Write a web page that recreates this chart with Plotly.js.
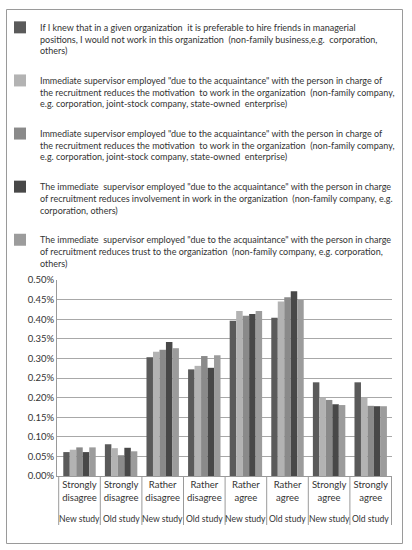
<!DOCTYPE html>
<html>
<head>
<meta charset="utf-8">
<script src="https://cdn.plot.ly/plotly-3.0.1.min.js"></script>
<style>
  body { margin: 0; background: #fff; }
  #chart { width: 412px; height: 550px; }
</style>
</head>
<body>
<div id="chart"></div>
<script>
// categories: answer (first label level) + study (second level)
const answers = ["Strongly<br>disagree", "Strongly<br>disagree", "Rather<br>disagree", "Rather<br>disagree",
                 "Rather<br>agree", "Rather<br>agree", "Strongly<br>agree", "Strongly<br>agree"];
const studies = ["New study", "Old study", "New study", "Old study",
                 "New study", "Old study", "New study", "Old study"];

// series names (line breaks as in the picture)
const seriesNames = [
  "If I knew that in a given organization  it is preferable to hire friends in managerial<br>positions, I would not work in this organization  (non-family business,e.g.  corporation,<br>others)",
  "Immediate supervisor employed \"due to the acquaintance\" with the person in charge of<br>the recruitment reduces the motivation  to work in the organization  (non-family company,<br>e.g. corporation, joint-stock company, state-owned  enterprise)",
  "Immediate supervisor employed \"due to the acquaintance\" with the person in charge of<br>the recruitment reduces the motivation  to work in the organization  (non-family company,<br>e.g. corporation, joint-stock company, state-owned  enterprise)",
  "The immediate  supervisor employed \"due to the acquaintance\" with the person in charge<br>of recruitment reduces involvement in work in the organization  (non-family company, e.g.<br>corporation, others)",
  "The immediate  supervisor employed \"due to the acquaintance\" with the person in charge<br>of recruitment reduces trust to the organization  (non-family company, e.g. corporation,<br>others)"
];

// values (as fractions, shown with % format)
const s1 = [0.00061, 0.00081, 0.00303, 0.00272, 0.00396, 0.00404, 0.00239, 0.00239];
const s2 = [0.00067, 0.00071, 0.00317, 0.00281, 0.00421, 0.00445, 0.00200, 0.00200];
const s3 = [0.00073, 0.00053, 0.00322, 0.00306, 0.00409, 0.00456, 0.00194, 0.00179];
const s4 = [0.00061, 0.00072, 0.00342, 0.00276, 0.00413, 0.00471, 0.00183, 0.00178];
const s5 = [0.00073, 0.00063, 0.00326, 0.00308, 0.00421, 0.00449, 0.00181, 0.00178];
const seriesValues = [s1, s2, s3, s4, s5];

const colors = ["#5a5a5a", "#b3b3b3", "#8a8a8a", "#484848", "#9c9c9c"];

// unique category keys, labels come from answers / studies
const catKeys = answers.map(function (a, i) { return a + "|" + studies[i]; });

// plot area in pixels, used to place legend / frame / labels
const W = 412, H = 550;
const plotL = 57, plotR = 392, plotT = 280, plotB = 476;
function px2x(px) { return (px - plotL) / (plotR - plotL); }
function px2y(py) { return (plotB - py) / (plotB - plotT); }

const fontFam = "Lato, Liberation Sans, sans-serif";

let data = seriesValues.map(function (vals, i) {
  return {
    type: "bar",
    name: seriesNames[i],
    x: catKeys,
    y: vals,
    marker: { color: colors[i], line: { width: 0 } },
    legendgroup: "g" + i,
    hoverinfo: "y"
  };
});

// dividers between categories
let shapes = [];
for (let i = 0; i <= catKeys.length; i++) {
  shapes.push({
    type: "line", xref: "x", yref: "paper",
    x0: i - 0.5, x1: i - 0.5, y0: 0, y1: px2y(525),
    line: { color: "#9a9a9a", width: 1 }
  });
}
// outer frame
shapes.push({
  type: "rect", xref: "paper", yref: "paper",
  x0: px2x(6.5), x1: px2x(402.5), y0: px2y(543.5), y1: px2y(9.5),
  line: { color: "#9a9a9a", width: 1 },
  fillcolor: "rgba(0,0,0,0)",
  layer: "below"
});

// second level labels
let annotations = catKeys.map(function (k, i) {
  return {
    x: k, xref: "x", y: px2y(519), yref: "paper",
    text: studies[i], showarrow: false,
    xanchor: "center", yanchor: "middle",
    font: { family: fontFam, size: 8.6, color: "#333" }
  };
});

let layout = {
  width: W,
  height: H,
  margin: { l: plotL, r: W - plotR, t: plotT, b: H - plotB, autoexpand: false },
  paper_bgcolor: "#fff",
  plot_bgcolor: "#fff",
  font: { family: fontFam, size: 9, color: "#333" },
  barmode: "group",
  bargap: 0.22,
  bargroupgap: 0,
  showlegend: true,
  legend: {
    x: px2x(0), y: px2y(15), xanchor: "left", yanchor: "top",
    traceorder: "grouped",
    tracegroupgap: 15,
    valign: "top",
    font: { family: fontFam, size: 9, color: "#333" },
    itemwidth: 30,
    bgcolor: "rgba(0,0,0,0)"
  },
  xaxis: {
    type: "category",
    showgrid: false,
    showline: true,
    linecolor: "#9a9a9a",
    linewidth: 1,
    ticks: "",
    tickangle: 0,
    tickvals: catKeys,
    ticktext: answers,
    tickfont: { family: fontFam, size: 9.5, color: "#333" },
    fixedrange: true
  },
  yaxis: {
    range: [0, 0.005],
    dtick: 0.0005,
    tickformat: ".2%",
    showgrid: true,
    gridcolor: "#a8a8a8",
    gridwidth: 1,
    showline: true,
    linecolor: "#9a9a9a",
    zeroline: false,
    ticks: "",
    tickfont: { family: fontFam, size: 9.5, color: "#333" },
    fixedrange: true
  },
  shapes: shapes,
  annotations: annotations
};

Plotly.newPlot("chart", data, layout, { staticPlot: true });
</script>
</body>
</html>
